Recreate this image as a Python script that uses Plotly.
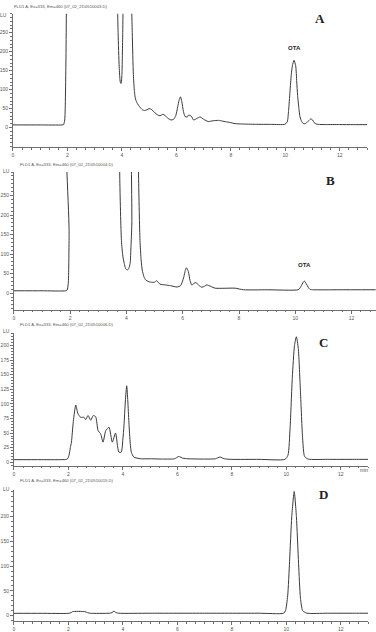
import plotly.graph_objects as go

# ---------------- data (retention time in min, signal in LU) ----------------
tA = [0, 1.0, 1.8, 1.86, 1.9, 1.94, 1.97, 2.0, 3.7, 3.82, 3.86, 3.9, 3.94, 3.97, 4.0, 4.03, 4.07, 4.1,
      4.25, 4.33, 4.38, 4.42, 4.46, 4.5, 4.57, 4.65, 4.75, 4.83, 4.92, 5.0, 5.08, 5.2, 5.3, 5.4, 5.5,
      5.58, 5.7, 5.8, 5.9, 5.98, 6.05, 6.1, 6.15, 6.2, 6.26, 6.32, 6.4, 6.45, 6.55, 6.63, 6.75, 6.87,
      7.0, 7.17, 7.35, 7.55, 7.7, 7.8, 8.0, 8.15, 8.4, 8.9, 9.5, 9.98, 10.07, 10.12, 10.17, 10.22,
      10.26, 10.32, 10.38, 10.42, 10.45, 10.5, 10.54, 10.6, 10.66, 10.72, 10.78, 10.86, 10.94, 11.0,
      11.06, 11.13, 11.21, 11.5, 12.0, 12.5, 13.0]
sA = [7, 7, 7, 8, 20, 150, 400, 1000, 1000, 400, 250, 160, 120, 116, 140, 250, 500, 1000,
      1000, 400, 250, 140, 95, 75, 63, 55, 47, 45, 47, 50, 48, 40, 34, 31, 35,
      32, 24, 20, 22, 32, 55, 72, 81, 68, 42, 29, 28, 33, 30, 20, 24, 28,
      22, 16, 18, 19, 17, 15.6, 13, 10.5, 9.5, 8.7, 8.5, 8.7, 15, 45, 94, 140,
      163, 177, 163, 120, 85, 50, 28, 16, 10.4, 10, 13, 18, 23, 20,
      13, 9.5, 8.5, 8, 8, 7.8, 7.8]

tB = [0, 1.0, 1.84, 1.89, 1.93, 1.96, 1.99, 3.7, 3.76, 3.82, 3.87, 3.92, 3.97, 4.03, 4.08, 4.13,
      4.16, 4.19, 4.23, 4.38, 4.43, 4.48, 4.52, 4.56, 4.62, 4.68, 4.77, 4.86, 5.0, 5.07, 5.19, 5.39,
      5.57, 5.8, 5.92, 5.98, 6.04, 6.09, 6.13, 6.2, 6.26, 6.32, 6.4, 6.47, 6.57, 6.68, 6.78, 6.86,
      7.0, 7.15, 7.5, 7.86, 8.16, 9.0, 10.1, 10.17, 10.23, 10.32, 10.4, 10.46, 10.52, 10.65, 11.5, 12.86]
sB = [6, 6, 6, 8, 25, 150, 1000, 1000, 300, 135, 95, 76, 63, 59, 63, 76,
      120, 177, 1000, 1000, 300, 135, 85, 59, 42, 34, 30, 28, 28, 32, 23, 21,
      19, 15.7, 19, 28, 42, 58, 65, 55, 32, 21, 25, 27, 20, 15, 18, 21,
      17, 12.7, 12.5, 12.7, 8.6, 8.6, 8.6, 13, 21, 31, 23, 15, 9.7, 8.6, 8.6, 8.6]

tC = [0, 1.0, 1.9, 1.97, 2.02, 2.07, 2.11, 2.18, 2.27, 2.35, 2.45, 2.57, 2.63, 2.72, 2.82, 2.91,
      3.0, 3.09, 3.18, 3.27, 3.37, 3.49, 3.61, 3.73, 3.85, 3.94, 4.0, 4.04, 4.09, 4.14, 4.18, 4.22,
      4.27, 4.31, 4.4, 4.65, 5.0, 5.5, 5.9, 6.05, 6.2, 6.39, 7.0, 7.4, 7.56, 7.72, 8.0, 9.0, 9.95,
      10.06, 10.14, 10.22, 10.3, 10.37, 10.44, 10.52, 10.6, 10.67, 10.8, 11.5, 12.5, 13.0]
sC = [4.5, 4.5, 4.8, 6, 12, 25, 34.5, 70, 98, 83, 77, 77, 73, 80, 72, 80,
      78, 54, 49, 34.5, 54, 60, 34.5, 50, 17.5, 17.5, 40, 63, 105, 131, 105, 68.5,
      32, 17, 9, 6, 6, 5.5, 6, 10, 7, 6, 5.5, 6, 9, 6, 5, 5, 5,
      12, 60, 145, 200, 215, 195, 120, 40, 10, 5.5, 5, 5, 5]

tD = [0, 1.0, 2.0, 2.1, 2.15, 2.6, 2.7, 2.8, 3.5, 3.6, 3.67, 3.75, 3.85, 5.0, 7.0, 9.0, 9.9,
      9.97, 10.05, 10.12, 10.2, 10.29, 10.37, 10.45, 10.52, 10.6, 10.75, 11.5, 12.5, 13.0]
sD = [4.6, 4.6, 4.6, 6, 8, 8, 6, 4.8, 4.8, 6, 9, 6, 4.8, 4.8, 4.8, 4.8, 4.8,
      10, 40, 110, 200, 251, 200, 105, 35, 10, 5, 4.8, 4.8, 4.8]

titles = ["FLD1 A, Ex=333, Em=460 (07_02_21\\0510003.D)",
          "FLD1 A, Ex=333, Em=460 (07_02_21\\0510004.D)",
          "FLD1 A, Ex=333, Em=460 (07_02_21\\0510006.D)",
          "FLD1 A, Ex=333, Em=460 (07_02_21\\0510015.D)"]
letters = ["A", "B", "C", "D"]
ota_labels = ["OTA", "OTA", None, None]
x_ticks = [0, 2, 4, 6, 8, 10, 12]
y_ticks_50 = [0, 50, 100, 150, 200, 250]
y_ticks_25 = [0, 25, 50, 75, 100, 125, 150, 175, 200]

# ---------------- layout geometry (pixels of the 376x632 canvas) ----------------
W, H = 376, 632
panels = [
    dict(t=tA, s=sA, xpx=(12, 367), ypx=(13.8, 149), xr=(0, 13.0), yr=(-52, 300), yt=y_ticks_50, my=10,
         ota=(10.32, 48.3), let=(320, 19), lu=(3, 15), title=(60, 7)),
    dict(t=tB, s=sB, xpx=(13, 376), ypx=(174, 313), xr=(0, 12.87), yr=(-42, 310), yt=y_ticks_50, my=10,
         ota=(10.32, 268), let=(330, 183), lu=(6, 173), title=(66, 166)),
    dict(t=tC, s=sC, xpx=(13, 368), ypx=(337, 471), xr=(0, 13.0), yr=(-6, 221), yt=y_ticks_25, my=5,
         ota=None, let=(323, 346), lu=(6, 335), title=(66, 328)),
    dict(t=tD, s=sD, xpx=(13, 368), ypx=(495, 628), xr=(0, 13.0), yr=(-11, 255), yt=y_ticks_50[:-1], my=10,
         ota=None, let=(323, 500), lu=(6, 494), title=(66, 486)),
]

LINE = "#3a3a3a"
AXC = "#6e6e6e"
TXT = "#555555"

fig = go.Figure()
layout = dict(width=W, height=H, margin=dict(l=0, r=0, t=0, b=0),
              paper_bgcolor="white", plot_bgcolor="white", showlegend=False)
annotations = []


def note(text, x, y, size, color, family="Liberation Sans", xref="paper"):
    return dict(text=text, x=x, y=y, xref=xref, yref="paper", showarrow=False,
                xanchor="center", yanchor="middle",
                font=dict(family=family, size=size, color=color))


for i, p in enumerate(panels):
    n = "" if i == 0 else str(i + 1)
    fig.add_trace(go.Scatter(x=p["t"], y=p["s"], mode="lines",
                             line=dict(color=LINE, width=1, shape="spline", smoothing=0.6),
                             xaxis="x" + n, yaxis="y" + n, hoverinfo="skip"))
    xd = [p["xpx"][0] / W, p["xpx"][1] / W]
    yd = [1 - p["ypx"][1] / H, 1 - p["ypx"][0] / H]
    common = dict(showgrid=False, zeroline=False, showline=True, linecolor=AXC, linewidth=1,
                  ticks="outside", ticklen=3, tickwidth=1, tickcolor=AXC,
                  tickfont=dict(family="Liberation Sans", size=5, color=TXT), fixedrange=True)
    layout["xaxis" + n] = dict(domain=xd, range=list(p["xr"]), anchor="y" + n,
                               tickvals=x_ticks, ticktext=[str(v) for v in x_ticks],
                               minor=dict(dtick=1 / 3, tick0=0, ticks="outside", ticklen=1.5,
                                          tickcolor=AXC, showgrid=False),
                               **common)
    layout["yaxis" + n] = dict(domain=yd, range=list(p["yr"]), anchor="x" + n,
                               tickvals=p["yt"], ticktext=[str(v) for v in p["yt"]],
                               minor=dict(dtick=p["my"], tick0=0, ticks="outside", ticklen=1.5,
                                          tickcolor=AXC, showgrid=False),
                               **common)
    annotations.append(note(titles[i], p["title"][0] / W, 1 - p["title"][1] / H, 4.2, TXT))
    annotations.append(note("LU", p["lu"][0] / W, 1 - p["lu"][1] / H, 5, TXT))
    annotations.append(note("<b>" + letters[i] + "</b>", p["let"][0] / W, 1 - p["let"][1] / H,
                            13, "#222222", family="Liberation Serif"))
    if ota_labels[i]:
        annotations.append(note("<b>" + ota_labels[i] + "</b>", p["ota"][0], 1 - p["ota"][1] / H,
                                6, "#222222", xref="x" + n))

annotations.append(note("min", 364 / W, 1 - 475.5 / H, 5, TXT))
layout["annotations"] = annotations
fig.update_layout(**layout)
fig.write_html("out.html")
